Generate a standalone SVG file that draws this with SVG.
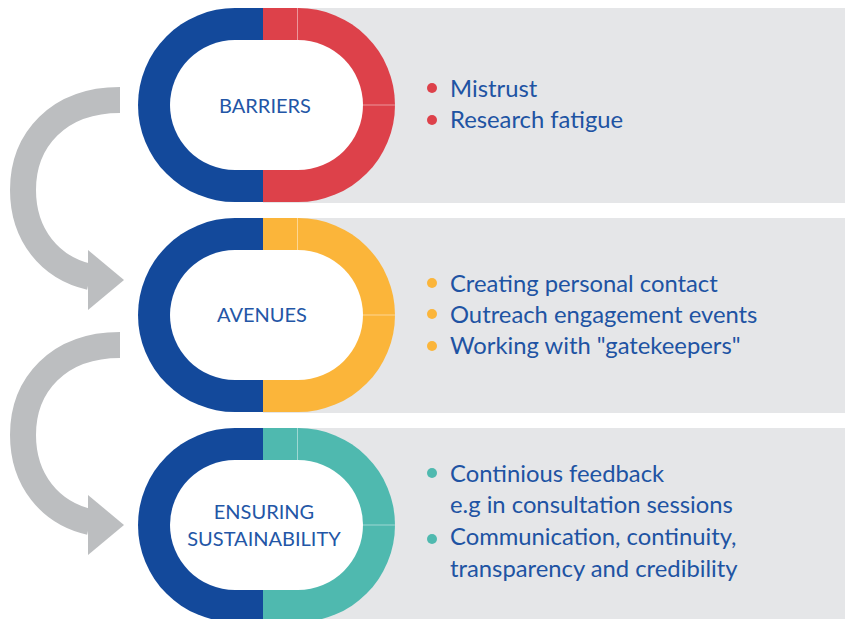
<svg xmlns="http://www.w3.org/2000/svg" width="845" height="619" viewBox="0 0 845 619">
  <defs>
    <style>
      .panel { fill: #e5e6e8; }
      .blue { fill: #13499b; }
      .inner { fill: #ffffff; }
      .split { stroke: #ffffff; stroke-opacity: 0.45; stroke-width: 1; fill: none; }
      .label { font-family: Lato, "Open Sans", sans-serif; font-size: 20px; fill: #2356a6; text-anchor: middle; }
      .item { font-family: Lato, "Open Sans", sans-serif; font-size: 23.8px; fill: #2053a3; }
      .flow { fill: none; stroke: #bcbec0; stroke-width: 26; }
      .head { fill: #bcbec0; }
    </style>
  </defs>

  <!-- Stage 1: barriers -->
  <g id="barriers">
    <rect class="panel" x="263" y="8" width="582" height="195"/>
    <path class="blue" d="M263,8 H235 A97,97 0 0 0 235,202 H263 Z"/>
    <path fill="#dd414a" d="M263,8 H298 A97,97 0 0 1 298,202 H263 Z"/>
    <path class="inner" d="M235,40 H298 A65,65 0 0 1 298,170 H235 A65,65 0 0 1 235,40 Z"/>
    <path class="split" d="M297.5,8 V40 M363,105 H395"/>
    <text class="label" x="265" y="113">BARRIERS</text>
    <circle cx="432" cy="88" r="5" fill="#dd414a"/>
    <circle cx="432" cy="120" r="5" fill="#dd414a"/>
    <text class="item" x="450" y="97">Mistrust</text>
    <text class="item" x="450" y="128">Research fatigue</text>
  </g>

  <!-- Stage 2: avenues -->
  <g id="avenues">
    <rect class="panel" x="263" y="218" width="582" height="195"/>
    <path class="blue" d="M263,218 H235 A97,97 0 0 0 235,412 H263 Z"/>
    <path fill="#fbb53a" d="M263,218 H298 A97,97 0 0 1 298,412 H263 Z"/>
    <path class="inner" d="M235,250 H298 A65,65 0 0 1 298,380 H235 A65,65 0 0 1 235,250 Z"/>
    <path class="split" d="M297.5,218 V250 M363,315 H395"/>
    <text class="label" x="262" y="322">AVENUES</text>
    <circle cx="432" cy="283" r="5" fill="#fbb53a"/>
    <circle cx="432" cy="314" r="5" fill="#fbb53a"/>
    <circle cx="432" cy="346" r="5" fill="#fbb53a"/>
    <text class="item" x="450" y="292">Creating personal contact</text>
    <text class="item" x="450" y="323">Outreach engagement events</text>
    <text class="item" x="450" y="354">Working with "gatekeepers"</text>
  </g>

  <!-- Stage 3: ensuring sustainability -->
  <g id="sustainability">
    <rect class="panel" x="263" y="428" width="582" height="191"/>
    <path class="blue" d="M263,428 H235 A97,97 0 0 0 235,622 H263 Z"/>
    <path fill="#4fb9af" d="M263,428 H298 A97,97 0 0 1 298,622 H263 Z"/>
    <path class="inner" d="M235,460 H298 A65,65 0 0 1 298,590 H235 A65,65 0 0 1 235,460 Z"/>
    <path class="split" d="M297.5,428 V460 M363,525 H395"/>
    <text class="label" x="264" y="519">ENSURING</text>
    <text class="label" x="264" y="546">SUSTAINABILITY</text>
    <circle cx="432" cy="473" r="5" fill="#4fb9af"/>
    <circle cx="432" cy="539" r="5" fill="#4fb9af"/>
    <text class="item" x="450" y="482">Continious feedback</text>
    <text class="item" x="450" y="513">e.g in consultation sessions</text>
    <text class="item" x="450" y="545">Communication, continuity,</text>
    <text class="item" x="450" y="577">transparency and credibility</text>
  </g>

  <!-- Curved arrows between stages -->
  <g id="connectors">
    <path class="flow" d="M120,100 C58,100 23,140 23,190 C23,235 50,268 90,277"/>
    <polygon class="head" points="88,250 124,280 88,310"/>
    <path class="flow" d="M120,345 C58,345 23,385 23,435 C23,480 50,513 90,522"/>
    <polygon class="head" points="88,495 124,525 88,555"/>
  </g>
</svg>
